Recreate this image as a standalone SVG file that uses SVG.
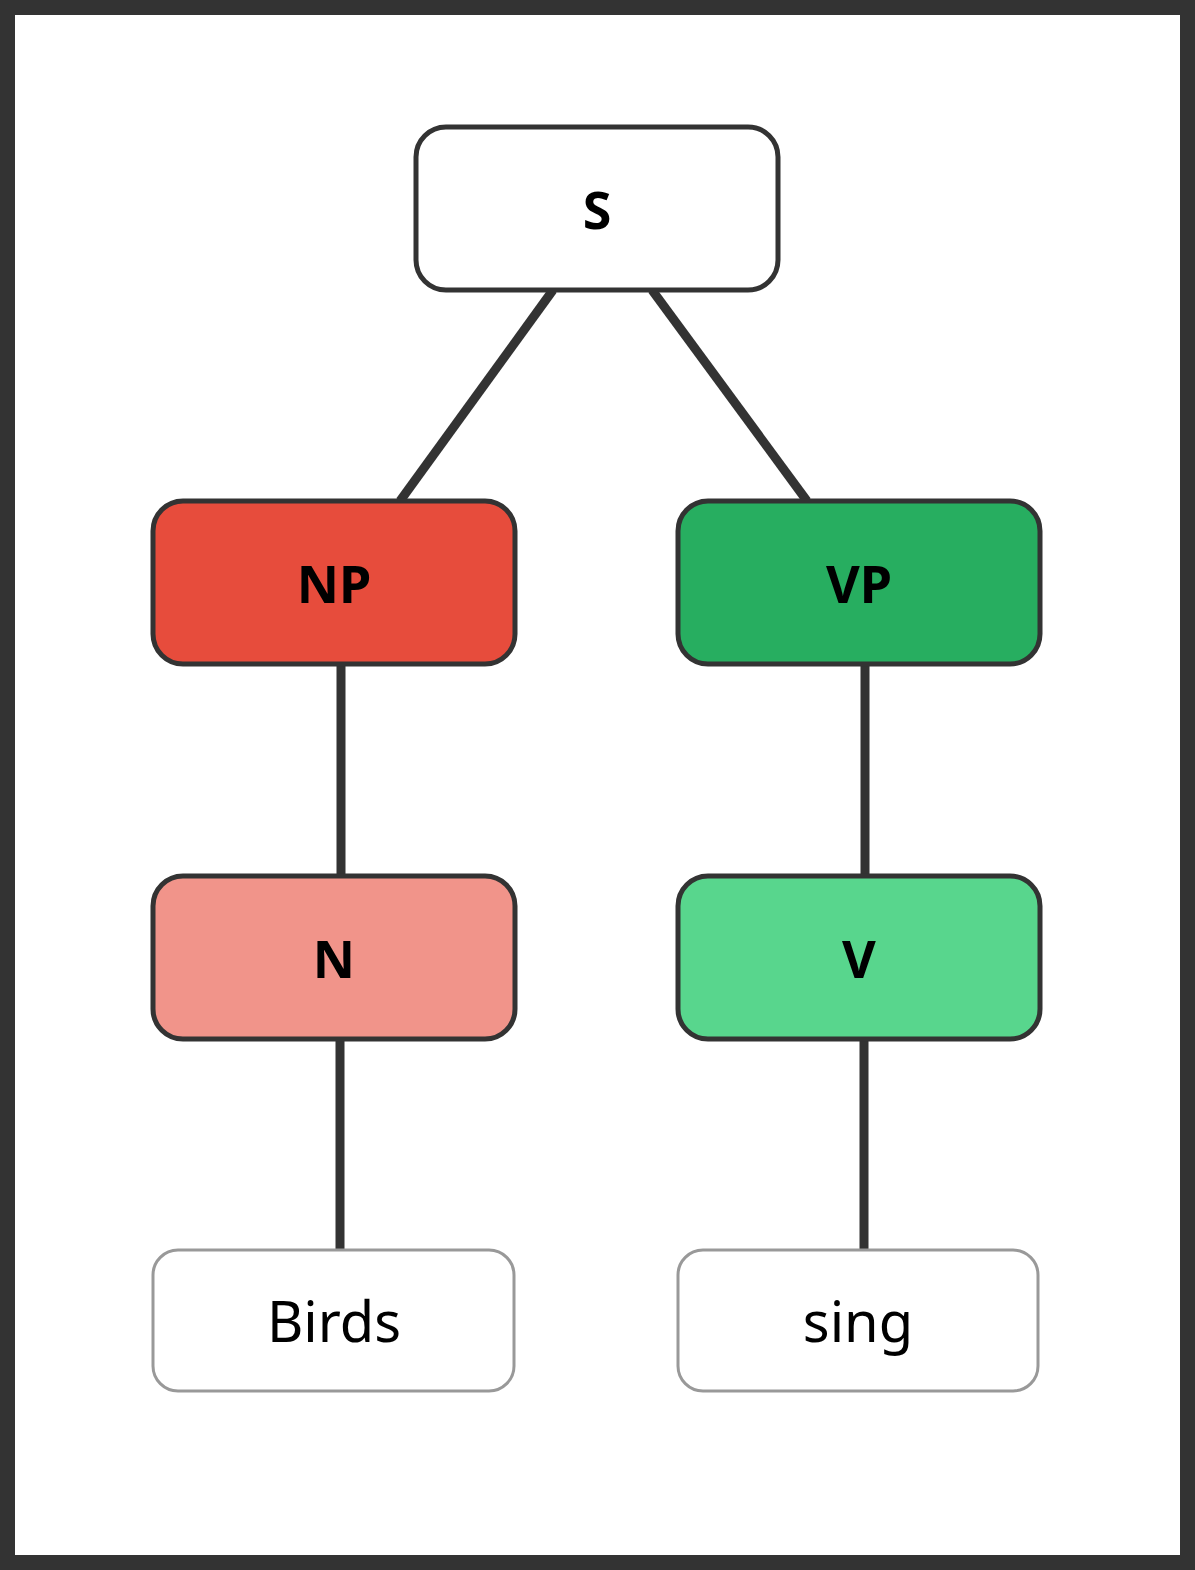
<svg xmlns="http://www.w3.org/2000/svg" width="1195" height="1570" viewBox="0 0 1195 1570">
<style>
.n{stroke:#333;stroke-width:5}
.l{fill:#fff;stroke:#999;stroke-width:3}
.t{font-family:"Noto Sans","Open Sans",sans-serif;font-weight:bold;font-size:52px;text-anchor:middle;dominant-baseline:central;fill:#000}
.w{font-family:"Noto Sans","Open Sans",sans-serif;font-size:56px;text-anchor:middle;dominant-baseline:central;fill:#000}
</style>
<rect x="7.5" y="7.5" width="1180" height="1555" fill="#fff" stroke="#333" stroke-width="15"/>
<g id="connectors" stroke="#333" stroke-width="9" fill="none">
<line x1="553" y1="290" x2="400" y2="501"/>
<line x1="652" y1="290" x2="807" y2="501"/>
<line x1="341" y1="664" x2="341" y2="876"/>
<line x1="865" y1="664" x2="865" y2="876"/>
<line x1="340" y1="1039" x2="340" y2="1250"/>
<line x1="864" y1="1039" x2="864" y2="1250"/>
</g>
<g id="S"><rect class="n" x="416" y="127" width="362" height="163" rx="30" fill="#fff"/><text class="t" x="597" y="208">S</text></g>
<g id="NP"><rect class="n" x="153" y="501" width="362" height="163" rx="30" fill="#e74c3c"/><text class="t" x="334" y="582">NP</text></g>
<g id="VP"><rect class="n" x="678" y="501" width="362" height="163" rx="30" fill="#27ae60"/><text class="t" x="859" y="582">VP</text></g>
<g id="N"><rect class="n" x="153" y="876" width="362" height="163" rx="30" fill="#f1948a"/><text class="t" x="334" y="957">N</text></g>
<g id="V"><rect class="n" x="678" y="876" width="362" height="163" rx="30" fill="#58d68d"/><text class="t" x="859" y="957">V</text></g>
<g id="Birds"><rect class="l" x="153" y="1250" width="361" height="141" rx="25"/><text class="w" x="334" y="1320">Birds</text></g>
<g id="sing"><rect class="l" x="678" y="1250" width="360" height="141" rx="25"/><text class="w" x="858" y="1320">sing</text></g>
</svg>
